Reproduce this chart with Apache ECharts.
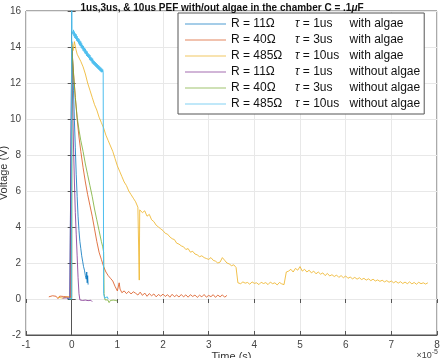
<!DOCTYPE html>
<html>
<head>
<meta charset="utf-8">
<script src="https://cdn.jsdelivr.net/npm/echarts@6/dist/echarts.min.js"></script>
<style>
  html, body { margin: 0; padding: 0; background: #fff; }
  #chart { width: 444px; height: 358px; }
</style>
</head>
<body>
<div id="chart"></div>
<script>
// legend columns
const resistances = ['11Ω', '40Ω', '485Ω', '11Ω', '40Ω', '485Ω'];
const taus = ['1us', '3us', '10us', '1us', '3us', '10us'];
const algaeLabels = ['with algae', 'with algae', 'with algae', 'without algae', 'without algae', 'without algae'];
const colors = ['#0072BD', '#D95319', '#EDB120', '#7E2F8E', '#77AC30', '#4DBEEE'];

// [time (x1e-5 s), voltage (V)]
const blue11With = [
  [-0.10, 0.05], [-0.08, -0.02], [-0.06, 0.04], [-0.04, -0.03], [-0.02, 0.03], [0, 0.0],
  [0.002, 14.3], [0.02, 13.2], [0.04, 11.6], [0.06, 9.9], [0.08, 8.4], [0.10, 6.9],
  [0.12, 5.7], [0.14, 4.6], [0.16, 3.8], [0.18, 3.2], [0.20, 2.8], [0.22, 2.4],
  [0.24, 2.1], [0.26, 1.8], [0.28, 1.6], [0.30, 1.3], [0.32, 1.1], [0.33, 1.5],
  [0.34, 0.9], [0.35, 1.3], [0.36, 0.8]
];
const red40With = [
  [-0.50, 0.12], [-0.46, 0.05], [-0.42, 0.18], [-0.38, 0.08], [-0.34, 0.15], [-0.30, 0.02],
  [-0.26, 0.16], [-0.22, 0.07], [-0.18, 0.14], [-0.14, 0.03], [-0.10, 0.12], [-0.06, 0.06],
  [-0.02, 0.10], [0, 0.10], [0.003, 14.0], [0.04, 12.6], [0.08, 11.2], [0.12, 10.0],
  [0.16, 9.0], [0.20, 8.2], [0.25, 7.3], [0.30, 6.5], [0.35, 5.8], [0.40, 5.2],
  [0.45, 4.6], [0.50, 3.9], [0.55, 3.2], [0.60, 2.6], [0.65, 2.2], [0.70, 1.8],
  [0.75, 1.5], [0.80, 1.3], [0.85, 1.15], [0.90, 1.0], [0.95, 0.7], [1.00, 0.45],
  [1.04, 0.9], [1.06, 0.55], [1.10, 0.35], [1.15, 0.45], [1.20, 0.30], [1.25, 0.42],
  [1.30, 0.28], [1.35, 0.40], [1.40, 0.32], [1.45, 0.22], [1.50, 0.38], [1.55, 0.20],
  [1.60, 0.33], [1.65, 0.15], [1.70, 0.30], [1.75, 0.18], [1.80, 0.28], [1.85, 0.12],
  [1.90, 0.25], [1.95, 0.16], [2.00, 0.27], [2.05, 0.14], [2.10, 0.24], [2.15, 0.10],
  [2.20, 0.26], [2.25, 0.13], [2.30, 0.22], [2.35, 0.11], [2.40, 0.25], [2.45, 0.12],
  [2.50, 0.23], [2.55, 0.10], [2.60, 0.24], [2.65, 0.14], [2.70, 0.22], [2.75, 0.09],
  [2.80, 0.21], [2.85, 0.12], [2.90, 0.25], [2.95, 0.10], [3.00, 0.20], [3.05, 0.13],
  [3.10, 0.24], [3.15, 0.09], [3.20, 0.22], [3.25, 0.12], [3.30, 0.23], [3.35, 0.10],
  [3.40, 0.20]
];
const yellow485With = [
  [-0.30, 0.10], [-0.20, 0.05], [-0.10, 0.12], [0, 0.08], [0.003, 14.2], [0.03, 13.8],
  [0.06, 14.3], [0.09, 13.9], [0.12, 13.6], [0.15, 13.7], [0.20, 13.2], [0.25, 12.9],
  [0.30, 12.5], [0.35, 12.0], [0.40, 11.6], [0.45, 11.2], [0.50, 10.8], [0.55, 10.5],
  [0.60, 10.1], [0.65, 9.8], [0.70, 9.5], [0.75, 9.1], [0.80, 8.8], [0.85, 8.5],
  [0.90, 8.2], [0.95, 7.8], [1.00, 7.4], [1.05, 7.1], [1.10, 6.8], [1.15, 6.5],
  [1.20, 6.3], [1.25, 6.0], [1.30, 5.8], [1.35, 5.6], [1.40, 5.4], [1.45, 5.1],
  [1.47, 5.0], [1.48, 1.05], [1.49, 4.95], [1.52, 4.9], [1.55, 4.8], [1.60, 4.9],
  [1.65, 4.6], [1.70, 4.7], [1.75, 4.4], [1.80, 4.3], [1.85, 4.1], [1.90, 4.0],
  [1.95, 3.9], [2.00, 3.8], [2.05, 3.65], [2.10, 3.6], [2.15, 3.45], [2.20, 3.35],
  [2.25, 3.3], [2.30, 3.1], [2.35, 3.05], [2.40, 2.95], [2.45, 2.9], [2.50, 2.75],
  [2.55, 2.8], [2.60, 2.6], [2.65, 2.65], [2.70, 2.5], [2.75, 2.45], [2.80, 2.35],
  [2.85, 2.4], [2.90, 2.3], [2.95, 2.25], [3.00, 2.2], [3.05, 2.3], [3.10, 2.15],
  [3.15, 2.1], [3.20, 2.0], [3.25, 2.05], [3.30, 2.3], [3.35, 2.15], [3.40, 2.0],
  [3.45, 1.95], [3.50, 1.85], [3.55, 1.9], [3.60, 1.75], [3.62, 1.7], [3.64, 0.9],
  [3.70, 0.85], [3.75, 0.95], [3.80, 0.88], [3.85, 0.92], [3.90, 0.82], [3.95, 0.95],
  [4.00, 0.87], [4.05, 0.9], [4.10, 0.8], [4.15, 0.93], [4.20, 0.86], [4.25, 0.91],
  [4.30, 0.8], [4.35, 0.94], [4.40, 0.85], [4.45, 0.9], [4.50, 0.78], [4.55, 0.92],
  [4.60, 0.84], [4.65, 0.8], [4.68, 0.9], [4.70, 1.5], [4.75, 1.55], [4.80, 1.65],
  [4.85, 1.5], [4.90, 1.7], [4.95, 1.6], [5.00, 1.8], [5.05, 1.55], [5.10, 1.65],
  [5.15, 1.5], [5.20, 1.6], [5.25, 1.45], [5.30, 1.55], [5.35, 1.4], [5.40, 1.5],
  [5.45, 1.38], [5.50, 1.45], [5.55, 1.3], [5.60, 1.42], [5.65, 1.28], [5.70, 1.35],
  [5.75, 1.25], [5.80, 1.33], [5.85, 1.2], [5.90, 1.3], [5.95, 1.18], [6.00, 1.28],
  [6.05, 1.15], [6.10, 1.22], [6.15, 1.12], [6.20, 1.2], [6.25, 1.1], [6.30, 1.18],
  [6.35, 1.08], [6.40, 1.15], [6.45, 1.05], [6.50, 1.12], [6.55, 1.02], [6.60, 1.1],
  [6.65, 1.0], [6.70, 1.06], [6.75, 0.98], [6.80, 1.04], [6.85, 0.95], [6.90, 1.02],
  [6.95, 0.93], [7.00, 1.0], [7.05, 0.9], [7.10, 0.98], [7.15, 0.88], [7.20, 0.96],
  [7.25, 0.86], [7.30, 0.94], [7.35, 0.85], [7.40, 0.95], [7.45, 0.84], [7.50, 0.92],
  [7.55, 0.82], [7.60, 0.93], [7.65, 0.85], [7.70, 0.9], [7.75, 0.83], [7.80, 0.9]
];
const purple11Without = [
  [-0.20, 0.05], [-0.16, -0.02], [-0.12, 0.06], [-0.08, -0.03], [-0.04, 0.04], [0, 0.0],
  [0.002, 14.0], [0.02, 11.0], [0.04, 8.5], [0.06, 6.5], [0.08, 4.8], [0.10, 3.6],
  [0.12, 2.4], [0.14, 1.2], [0.16, 0.3], [0.18, -0.05], [0.21, -0.15], [0.24, -0.08],
  [0.27, -0.14], [0.30, -0.06], [0.33, -0.15], [0.36, -0.09], [0.39, -0.16], [0.42, -0.07],
  [0.45, -0.15], [0.46, -0.05]
];
const green40Without = [
  [-0.05, 0.0], [0, 0.0], [0.003, 14.0], [0.04, 12.5], [0.08, 11.2], [0.12, 10.1],
  [0.16, 9.4], [0.20, 8.8], [0.25, 8.2], [0.30, 7.5], [0.35, 6.9], [0.40, 6.3],
  [0.45, 5.7], [0.50, 5.0], [0.55, 4.4], [0.60, 3.8], [0.65, 3.2], [0.68, 2.9],
  [0.70, 2.6], [0.71, 0.3], [0.73, -0.05], [0.76, -0.15], [0.79, -0.05], [0.82, -0.2],
  [0.85, -0.08], [0.88, -0.18], [0.91, -0.06], [0.94, -0.17], [0.97, -0.08], [1.00, -0.12]
];
const cyan485Without = [
  [-0.06, 0.05], [-0.04, -0.02], [-0.02, 0.06], [0, 0.0], [0.001, 17.0], [0.005, 14.9],
  [0.01, 14.8], [0.02, 15.0], [0.03, 14.7], [0.04, 14.95], [0.05, 14.6], [0.06, 14.85],
  [0.07, 14.5], [0.08, 14.75], [0.09, 14.45], [0.10, 14.7], [0.11, 14.35], [0.12, 14.6],
  [0.13, 14.3], [0.14, 14.5], [0.15, 14.2], [0.16, 14.45], [0.17, 14.1], [0.18, 14.35],
  [0.19, 14.05], [0.20, 14.3], [0.21, 13.95], [0.22, 14.2], [0.23, 13.9], [0.24, 14.1],
  [0.25, 13.8], [0.26, 14.05], [0.27, 13.75], [0.28, 13.95], [0.29, 13.65], [0.30, 13.9],
  [0.31, 13.6], [0.32, 13.8], [0.33, 13.5], [0.34, 13.75], [0.35, 13.45], [0.36, 13.65],
  [0.37, 13.4], [0.38, 13.6], [0.39, 13.3], [0.40, 13.55], [0.41, 13.25], [0.42, 13.45],
  [0.43, 13.2], [0.44, 13.4], [0.45, 13.1], [0.46, 13.35], [0.47, 13.05], [0.48, 13.25],
  [0.49, 13.0], [0.50, 13.2], [0.51, 12.95], [0.52, 13.15], [0.53, 12.9], [0.54, 13.1],
  [0.55, 12.85], [0.56, 13.05], [0.57, 12.8], [0.58, 13.0], [0.59, 12.75], [0.60, 12.95],
  [0.61, 12.7], [0.62, 12.9], [0.63, 12.65], [0.64, 12.85], [0.65, 12.6], [0.66, 12.8],
  [0.67, 12.6], [0.68, 12.75], [0.69, 12.6], [0.70, 0.3], [0.72, 0.05], [0.74, 0.15],
  [0.76, -0.02], [0.78, 0.12], [0.80, 0.0]
];

const seriesData = [blue11With, red40With, yellow485With, purple11Without, green40Without, cyan485Without];
const xTicks = { min: -1, max: 8, interval: 1 };
const yTicks = { min: -2, max: 16, interval: 2 };

const font = '"Liberation Sans", Arial, sans-serif';
const axisColor = '#555';
const gridColor = '#e8e8e8';

const names = resistances.map((r, i) => `R = ${r} τ = ${taus[i]} ${algaeLabels[i]}`);

const chart = echarts.init(document.getElementById('chart'), null, { renderer: 'canvas' });

const option = {
  animation: false,
  title: {
    text: '1us,3us, & 10us PEF with/out algae in the chamber C = .1{m|μ}F',
    left: 'center',
    top: -2,
    textStyle: {
      fontSize: 10,
      fontWeight: 'bold',
      fontFamily: font,
      color: '#111',
      rich: { m: { fontSize: 10, fontStyle: 'italic', fontFamily: font, color: '#111' } },
    },
  },
  grid: {
    left: 26, right: 7, top: 11, bottom: 23,
    outerBoundsMode: 'none',
    show: true, borderColor: axisColor, borderWidth: 1,
  },
  legend: {
    orient: 'vertical',
    left: 178,
    top: 13,
    padding: [4, 4, 3, 7],
    icon: 'rect',
    itemWidth: 41,
    itemHeight: 1,
    itemGap: 2,
    backgroundColor: '#fff',
    borderColor: axisColor,
    borderWidth: 1,
    borderRadius: 0,
    itemStyle: { opacity: 0.7 },
    data: names,
    formatter: (name) => {
      const i = names.indexOf(name);
      return `{r|R = ${resistances[i]}}{ti|τ}{t| = ${taus[i]}}{a|${algaeLabels[i]}}`;
    },
    textStyle: {
      fontFamily: font,
      fontSize: 12,
      color: '#111',
      lineHeight: 14,
      rich: {
        r: { width: 64, fontSize: 12, fontFamily: font, color: '#111' },
        ti: { fontSize: 12, fontStyle: 'italic', fontFamily: font, color: '#111' },
        t: { width: 50, fontSize: 12, fontFamily: font, color: '#111' },
        a: { fontSize: 12, fontFamily: font, color: '#111' },
      },
    },
  },
  xAxis: [
    {
      type: 'value',
      ...xTicks,
      name: 'Time (s)',
      nameLocation: 'middle',
      nameGap: 16,
      nameMoveOverlap: false,
      nameTextStyle: { fontSize: 11, fontFamily: font, color: '#333', verticalAlign: 'top' },
      axisLine: { onZero: false, lineStyle: { color: axisColor } },
      axisTick: { inside: true, length: 4, lineStyle: { color: axisColor } },
      axisLabel: { fontSize: 10, fontFamily: font, color: '#444', margin: 5 },
      splitLine: { show: true, lineStyle: { color: gridColor } },
    },
    {
      type: 'value',
      position: 'top',
      ...xTicks,
      axisLine: { show: false },
      axisTick: { inside: true, length: 4, lineStyle: { color: axisColor } },
      axisLabel: { show: false },
      splitLine: { show: false },
    },
  ],
  yAxis: [
    {
      type: 'value',
      ...yTicks,
      name: 'Voltage (V)',
      nameLocation: 'middle',
      nameGap: 17,
      nameMoveOverlap: false,
      nameTextStyle: { fontSize: 11, fontFamily: font, color: '#333' },
      axisLine: { show: true, lineStyle: { color: axisColor } },
      axisTick: { show: true, inside: true, length: 4, lineStyle: { color: axisColor } },
      axisLabel: { fontSize: 10, fontFamily: font, color: '#444', margin: 5 },
      splitLine: { show: true, lineStyle: { color: gridColor } },
    },
    {
      type: 'value',
      position: 'right',
      ...yTicks,
      axisLine: { show: false },
      axisTick: { show: true, inside: true, length: 4, lineStyle: { color: axisColor } },
      axisLabel: { show: false },
      splitLine: { show: false },
    },
  ],
  graphic: [
    {
      type: 'text',
      right: 6,
      top: 349,
      style: {
        text: '×10{s|-5}',
        fontSize: 9,
        fontFamily: font,
        fill: '#444',
        rich: { s: { fontSize: 7, fontFamily: font, fill: '#444', verticalAlign: 'top', padding: [0, 0, 6, 0] } },
      },
    },
  ],
  series: names.map((name, i) => ({
    name,
    type: 'line',
    data: seriesData[i],
    symbol: 'none',
    clip: true,
    color: colors[i],
    lineStyle: { width: i === 5 ? 1 : 0.8, color: colors[i] },
    z: 2 + i,
  })),
};

chart.setOption(option);
</script>
</body>
</html>
